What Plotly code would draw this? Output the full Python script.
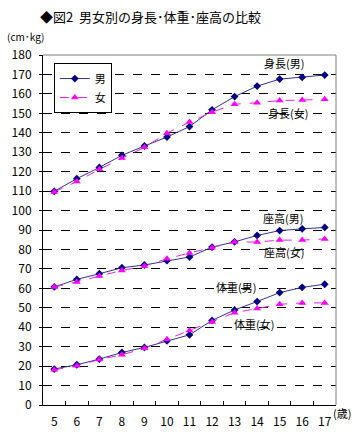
import plotly.graph_objects as go

ages = ["5", "6", "7", "8", "9", "10", "11", "12", "13", "14", "15", "16", "17"]
height_m = [109.9, 116.4, 122.2, 128.4, 133.2, 137.8, 143.2, 151.8, 158.6, 164.0, 167.6, 168.5, 169.7]
height_f = [109.6, 114.9, 121.2, 127.0, 132.5, 139.8, 145.5, 150.6, 154.7, 155.4, 156.6, 156.8, 157.3]
sitting_m = [60.7, 64.6, 67.5, 70.6, 72.0, 74.2, 76.1, 81.2, 83.9, 87.2, 89.7, 90.6, 91.3]
sitting_f = [60.7, 63.3, 66.3, 69.2, 71.4, 75.2, 78.2, 80.9, 83.8, 83.8, 84.8, 84.8, 85.4]
weight_m = [18.5, 20.7, 23.6, 27.0, 29.6, 33.0, 36.1, 43.5, 48.9, 53.2, 57.8, 60.5, 62.1]
weight_f = [18.1, 20.2, 23.4, 25.8, 29.2, 33.8, 38.3, 42.7, 47.5, 49.6, 51.8, 52.5, 52.5]

labels = ["身長(男)", "身長(女)", "座高(男)", "座高(女)", "体重(男)", "体重(女)"]
label_x = [10.18, 10.35, 10.13, 10.18, 8.06, 8.85]
label_y = [175.9, 150.3, 96.4, 78.5, 60.9, 41.8]

FONT = "Noto Sans CJK JP"
male_line = "#33338f"
male_marker = "#000080"
female_line = "#dd22dd"
female_marker = "#ff00ff"

fig = go.Figure()
pairs = [(height_m, height_f), (sitting_m, sitting_f), (weight_m, weight_f)]
for i, (m, f) in enumerate(pairs):
    fig.add_trace(go.Scatter(
        x=ages, y=m, mode="lines+markers", name="男", showlegend=(i == 0),
        line=dict(color=male_line, width=1),
        marker=dict(symbol="diamond", size=6, color=male_marker),
    ))
    fig.add_trace(go.Scatter(
        x=ages, y=f, mode="lines+markers", name="女", showlegend=(i == 0),
        line=dict(color=female_line, width=1, dash="dash"),
        marker=dict(symbol="triangle-up", size=7, color=female_marker),
    ))

for t, lx, ly in zip(labels, label_x, label_y):
    fig.add_annotation(x=lx, y=ly, xref="x", yref="y", text=t, showarrow=False,
                       font=dict(family=FONT, size=11, color="black"))

fig.add_annotation(x=-0.128, y=1.025, xref="paper", yref="paper", text="(cm･kg)",
                   showarrow=False, xanchor="left", yanchor="bottom",
                   font=dict(family=FONT, size=10, color="black"))
fig.add_annotation(x=1.02, y=-0.023, xref="paper", yref="paper", text="(歳)",
                   showarrow=False, xanchor="center", yanchor="middle",
                   font=dict(family=FONT, size=11, color="black"))

# top/right gray border
fig.add_shape(type="line", xref="paper", yref="paper", x0=0, x1=1, y0=1, y1=1,
              line=dict(color="#808080", width=1), layer="above")
fig.add_shape(type="line", xref="paper", yref="paper", x0=1, x1=1, y0=0, y1=1,
              line=dict(color="#808080", width=1), layer="above")

fig.update_layout(
    width=358, height=441,
    margin=dict(l=41, r=22, t=55, b=35),
    paper_bgcolor="white", plot_bgcolor="white",
    font=dict(family=FONT, size=12, color="black"),
    title=dict(text="◆図2  男女別の身長･体重･座高の比較", x=40 / 358, xanchor="left",
               y=1 - 17 / 441, yanchor="middle", xref="container", yref="container",
               font=dict(family=FONT, size=13, color="black")),
    legend=dict(x=0.037, y=0.977, xanchor="left", yanchor="top",
                bordercolor="black", borderwidth=1, bgcolor="white",
                font=dict(family=FONT, size=11), tracegroupgap=0),
    xaxis=dict(type="category", showline=True, linecolor="black", linewidth=1,
               ticks="inside", tickson="boundaries", ticklen=4, tickcolor="black",
               showgrid=False, range=[-0.5, 12.5], tickfont=dict(size=12),
               tickangle=0, ticklabelstandoff=6),
    yaxis=dict(range=[0, 180], dtick=10, showline=True, linecolor="black", linewidth=1,
               ticks="outside", ticklen=3, tickcolor="black",
               showgrid=True, gridcolor="black", griddash="dash", gridwidth=1,
               zeroline=False, tickfont=dict(size=12), ticklabelstandoff=5),
)

fig.write_html("out.html", config={"displayModeBar": False},
               post_script="document.body.style.margin='0';document.body.style.overflow='hidden';")
